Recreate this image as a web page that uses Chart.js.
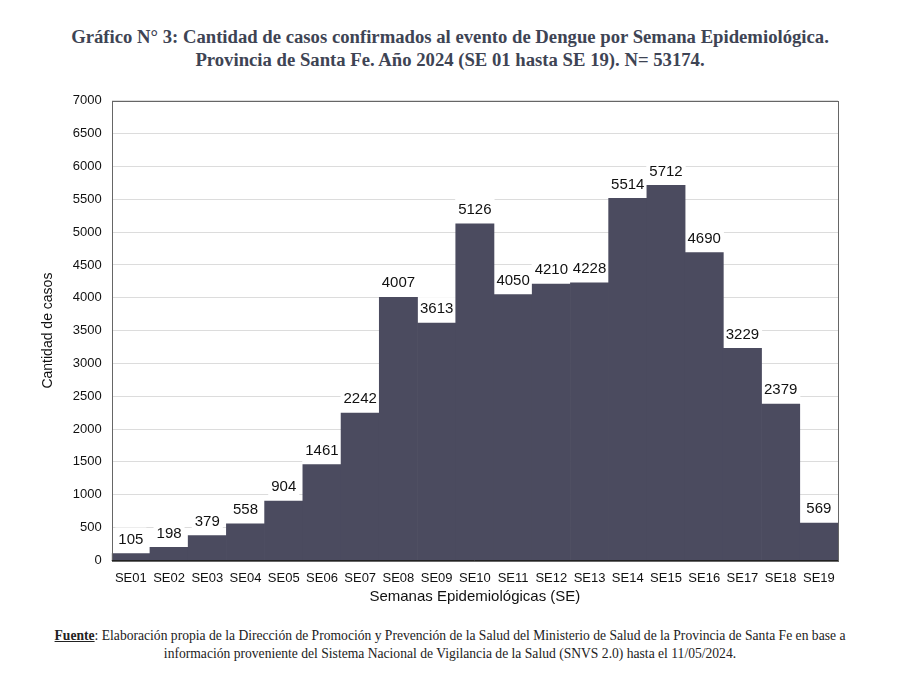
<!DOCTYPE html>
<html>
<head>
<meta charset="utf-8">
<script src="https://cdn.jsdelivr.net/npm/chart.js@4"></script>
<style>
  body { margin: 0; background: #fff; width: 900px; height: 674px; position: relative; overflow: hidden; }
  #title { position: absolute; top: 25px; left: 0; width: 900px; text-align: center;
    font-family: "Liberation Serif", serif; font-weight: bold; font-size: 18.7px; line-height: 23px; color: #3e4454; }
  #wrap { position: absolute; top: 83px; left: 0; width: 900px; height: 527px; }
  #foot { position: absolute; top: 627px; left: 0; width: 900px; text-align: center;
    font-family: "Liberation Serif", serif; font-size: 13.6px; line-height: 18px; color: #222; }
  #foot b { text-decoration: underline; }
</style>
</head>
<body>
<div id="title">Gráfico N° 3: Cantidad de casos confirmados al evento de Dengue por Semana Epidemiológica.<br>Provincia de Santa Fe. Año 2024 (SE 01 hasta SE 19). N= 53174.</div>
<div id="wrap"><canvas id="chart"></canvas></div>
<div id="foot"><b>Fuente</b>: Elaboración propia de la Dirección de Promoción y Prevención de la Salud del Ministerio de Salud de la Provincia de Santa Fe en base a<br>información proveniente del Sistema Nacional de Vigilancia de la Salud (SNVS 2.0) hasta el 11/05/2024.</div>
<script>
const weeks = ["SE01", "SE02", "SE03", "SE04", "SE05", "SE06", "SE07", "SE08", "SE09", "SE10",
  "SE11", "SE12", "SE13", "SE14", "SE15", "SE16", "SE17", "SE18", "SE19"];
const cases = [105, 198, 379, 558, 904, 1461, 2242, 4007, 3613, 5126,
  4050, 4210, 4228, 5514, 5712, 4690, 3229, 2379, 569];

const labelFont = "15px 'Liberation Sans', Arial, sans-serif";

// white boxes behind the value labels go under the bars, text goes on top
const valueLabels = {
  id: "valueLabels",
  beforeDatasetsDraw(chart) {
    const ctx = chart.ctx;
    ctx.save();
    ctx.font = labelFont;
    ctx.fillStyle = "#fff";
    chart.getDatasetMeta(0).data.forEach((bar, i) => {
      const w = ctx.measureText(String(cases[i])).width + 6;
      ctx.fillRect(bar.x - w / 2, bar.y - 26, w, 24);
    });
    ctx.restore();
  },
  afterDatasetsDraw(chart) {
    const ctx = chart.ctx;
    ctx.save();
    ctx.font = labelFont;
    ctx.textAlign = "center";
    ctx.textBaseline = "middle";
    ctx.fillStyle = "#111";
    chart.getDatasetMeta(0).data.forEach((bar, i) => {
      ctx.fillText(String(cases[i]), bar.x, bar.y - 14);
    });
    ctx.restore();
  }
};

const plotBorder = {
  id: "plotBorder",
  afterDraw(chart) {
    const a = chart.chartArea, ctx = chart.ctx;
    ctx.save();
    ctx.strokeStyle = "#666";
    ctx.lineWidth = 1;
    ctx.strokeRect(Math.round(a.left) + 0.5, Math.round(a.top) + 0.5, Math.round(a.right - a.left), Math.round(a.bottom - a.top));
    ctx.strokeStyle = "#222";
    ctx.beginPath();
    ctx.moveTo(a.left, Math.round(a.bottom) + 0.5);
    ctx.lineTo(a.right, Math.round(a.bottom) + 0.5);
    ctx.stroke();
    ctx.restore();
  }
};

new Chart(document.getElementById("chart"), {
  type: "bar",
  data: {
    labels: weeks,
    datasets: [{
      data: cases,
      backgroundColor: "#4b4b5f",
      barPercentage: 1,
      categoryPercentage: 1
    }]
  },
  options: {
    responsive: true,
    maintainAspectRatio: false,
    animation: false,
    layout: { padding: { left: 36, right: 62, top: 8, bottom: 0 } },
    plugins: { legend: { display: false }, tooltip: { enabled: false } },
    scales: {
      x: {
        grid: { display: false },
        border: { display: false },
        ticks: { color: "#111", padding: 2, font: { family: "'Liberation Sans', Arial", size: 13 }, maxRotation: 0 },
        title: { display: true, text: "Semanas Epidemiológicas (SE)", color: "#111",
          font: { family: "'Liberation Sans', Arial", size: 15 }, padding: { top: 0 } }
      },
      y: {
        min: 0, max: 7000,
        grid: { color: "#dcdcdc", drawTicks: false },
        border: { display: false },
        ticks: { stepSize: 500, color: "#111", padding: 10, font: { family: "'Liberation Sans', Arial", size: 13 },
          callback: v => String(v) },
        title: { display: true, text: "Cantidad de casos", color: "#111",
          font: { family: "'Liberation Sans', Arial", size: 14 }, padding: { bottom: 6 } }
      }
    }
  },
  plugins: [valueLabels, plotBorder]
});
</script>
</body>
</html>
